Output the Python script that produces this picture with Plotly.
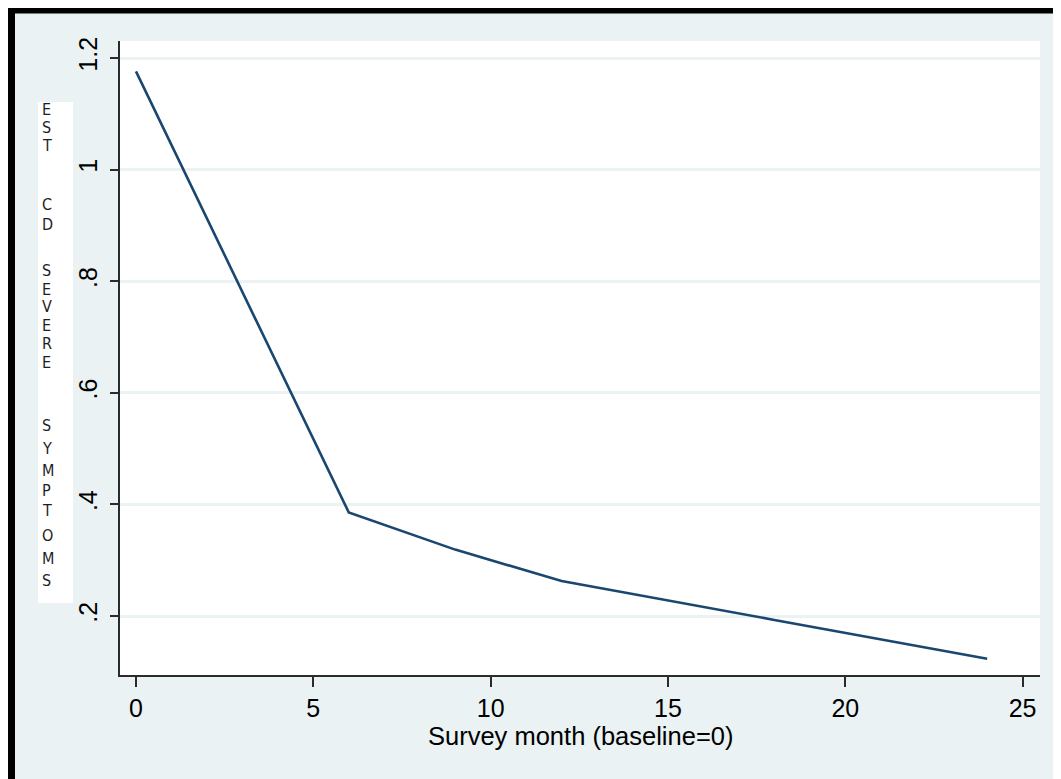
import plotly.graph_objects as go

# ---- data ----
months = [0, 6, 9, 12, 18, 24]
est_severe = [1.176, 0.3856, 0.319, 0.2627, 0.193, 0.1235]

x_tickvals = [0, 5, 10, 15, 20, 25]
x_ticktext = ["0", "5", "10", "15", "20", "25"]
y_tickvals = [0.2, 0.4, 0.6, 0.8, 1.0, 1.2]
y_ticktext = [".2", ".4", ".6", ".8", "1", "1.2"]

x_title = "Survey month (baseline=0)"
y_title = "EST CD SEVERE SYMPTOMS"

# ---- layout geometry (figure pixels; page body adds an 8px offset) ----
W, H = 1061, 779
OFF = 8
ML, MR, MT, MB = 112, 29, 33, 112
PW = W - ML - MR
PH = H - MT - MB

def px_x(x):
    # x given in screenshot pixels
    return (x - OFF - ML) / PW

def px_y(y):
    return (H - MB - (y - OFF)) / PH

BG = "#eaf2f3"
LINE = "#1a476f"
AX = "#2b2b2b"

fig = go.Figure()
fig.add_trace(go.Scatter(
    x=months, y=est_severe, mode="lines",
    line=dict(color=LINE, width=2.6), showlegend=False,
))

shapes = [
    # black frame bars (top and left)
    dict(type="rect", xref="paper", yref="paper", x0=px_x(8), x1=px_x(W + OFF), y0=px_y(13.5), y1=px_y(7),
         fillcolor="black", line=dict(width=0), layer="above"),
    dict(type="rect", xref="paper", yref="paper", x0=px_x(8), x1=px_x(15), y0=px_y(H + OFF), y1=px_y(7),
         fillcolor="black", line=dict(width=0), layer="above"),
    # white box behind the vertical y title
    dict(type="rect", xref="paper", yref="paper", x0=px_x(38), x1=px_x(73), y0=px_y(603), y1=px_y(102),
         fillcolor="white", line=dict(width=0), layer="above"),
]

# vertical stacked y title letters (screenshot pixel rows)
letter_y = [109, 127, 145, None, 205, 225, None, 270, 289, 307, 325, 343, 362, None,
            425, 448, 470, 490, 510, 535, 558, 580]
annotations = []
for ch, yy in zip(y_title, letter_y):
    if ch == " " or yy is None:
        continue
    annotations.append(dict(
        text=ch, xref="paper", yref="paper", x=px_x(41), y=px_y(yy),
        xanchor="left", yanchor="middle", showarrow=False, borderpad=0,
        font=dict(family="Liberation Sans Narrow, DejaVu Sans Condensed, Arial Narrow, sans-serif",
                  size=16, color="#1e1e1e"),
    ))

annotations.append(dict(
    text=x_title, xref="paper", yref="paper", x=px_x(580), y=px_y(736),
    xanchor="center", yanchor="middle", showarrow=False, borderpad=0,
    font=dict(family="Liberation Sans, Arial, sans-serif", size=25.5, color="black"),
))

fig.update_layout(
    width=W, height=H,
    margin=dict(l=ML, r=MR, t=MT, b=MB, pad=0),
    paper_bgcolor=BG, plot_bgcolor="white",
    font=dict(family="Liberation Sans, Arial, sans-serif", size=25, color="black"),
    shapes=shapes, annotations=annotations,
    xaxis=dict(
        range=[-0.451, 25.49], tickvals=x_tickvals, ticktext=x_ticktext,
        showgrid=False, zeroline=False, showline=True, linecolor=AX, linewidth=1.5,
        ticks="outside", ticklen=10, tickwidth=1.5, tickcolor=AX,
        tickfont=dict(size=25, color="black"),
    ),
    yaxis=dict(
        range=[0.0943, 1.2305], tickvals=y_tickvals, ticktext=y_ticktext,
        showgrid=True, gridcolor=BG, gridwidth=2.5, zeroline=False,
        showline=True, linecolor=AX, linewidth=1.5,
        ticks="outside", ticklen=8, tickwidth=1.5, tickcolor=AX,
        tickangle=-90, tickfont=dict(size=25, color="black"),
        ticklabelstandoff=3,
    ),
)

fig.write_html("out.html")
